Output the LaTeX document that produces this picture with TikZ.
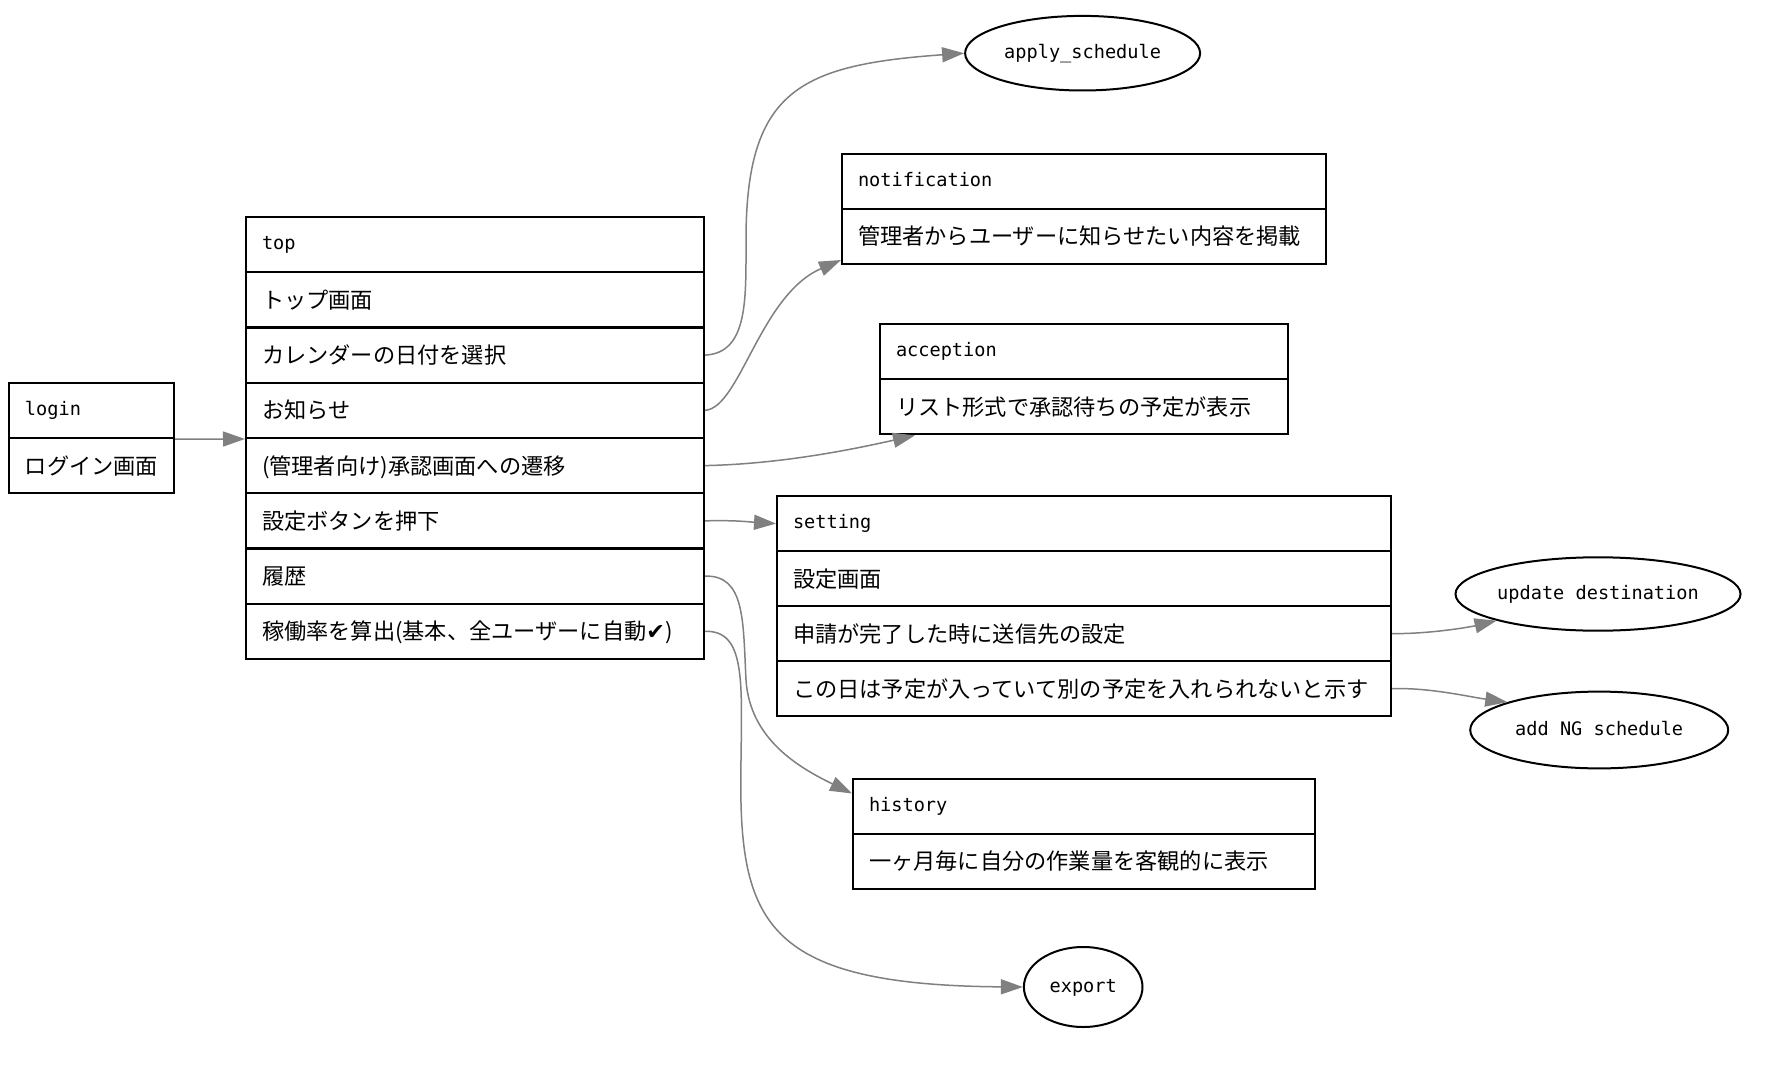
\documentclass[tikz,border=0pt]{standalone}
\usepackage{fontspec}
\usetikzlibrary{arrows.meta,shapes.geometric,calc}
\setmainfont{Noto Sans CJK JP}
\newfontfamily\jpfont{Noto Sans CJK JP}
\newfontfamily\codefont{DejaVu Sans Mono}
\newfontfamily\dingfont{DejaVu Sans}
\begin{document}
\begin{tikzpicture}[x=1pt,y=-1pt,
  lbl/.style={font=\codefont\fontsize{9.3}{11}\selectfont, text height=7pt, text depth=2pt},
  jp/.style={font=\jpfont\fontsize{11.1}{13}\selectfont, text height=9.77pt, text depth=1.33pt},
  row/.style={draw=black, line width=1pt, anchor=north west, inner xsep=8pt, inner ysep=0pt,
              minimum height=27.6pt, align=left},
  oval/.style={draw=black, line width=1pt, ellipse, inner sep=0pt, lbl},
  link/.style={draw=gray, line width=0.75pt, -{Triangle[length=11pt,width=7.5pt]}, fill=none}
]
\fill[white] (0,0) rectangle (886,535);
\useasboundingbox (0,0) rectangle (886,535);

% login record
\node[row, lbl, text width=66.5pt] (login-1) at (4,191) {login};
\node[row, jp,  text width=66.5pt] (login-2) at (4,218.5) {ログイン画面};

% top record
\node[row, lbl, text width=213pt] (top-1) at (122.5,108)     {top};
\node[row, jp,  text width=213pt] (top-2) at (122.5,135.625) {トップ画面};
\node[row, jp,  text width=213pt] (top-3) at (122.5,163.25)  {カレンダーの日付を選択};
\node[row, jp,  text width=213pt] (top-4) at (122.5,190.875) {お知らせ};
\node[row, jp,  text width=213pt] (top-5) at (122.5,218.5)   {(管理者向け)承認画面への遷移};
\node[row, jp,  text width=213pt] (top-6) at (122.5,246.125) {設定ボタンを押下};
\node[row, jp,  text width=213pt] (top-7) at (122.5,273.75)  {履歴};
\node[row, jp,  text width=213pt] (top-8) at (122.5,301.375) {稼働率を算出(基本、全ユーザーに自動{\dingfont ✔})};

% notification record
\node[row, lbl, text width=225.75pt] (notif-1) at (420.5,76.3)  {notification};
\node[row, jp,  text width=225.75pt] (notif-2) at (420.5,103.9) {管理者からユーザーに知らせたい内容を掲載};

% acception record
\node[row, lbl, text width=188pt] (acc-1) at (439.5,161.5) {acception};
\node[row, jp,  text width=188pt] (acc-2) at (439.5,189.1) {リスト形式で承認待ちの予定が表示};

% setting record
\node[row, lbl, text width=291pt] (set-1) at (388,247.5) {setting};
\node[row, jp,  text width=291pt] (set-2) at (388,275)   {設定画面};
\node[row, jp,  text width=291pt] (set-3) at (388,302.5) {申請が完了した時に送信先の設定};
\node[row, jp,  text width=291pt] (set-4) at (388,330)   {この日は予定が入っていて別の予定を入れられないと示す};

% history record
\node[row, lbl, text width=215pt] (hist-1) at (426,388.75) {history};
\node[row, jp,  text width=215pt] (hist-2) at (426,416.35) {一ヶ月毎に自分の作業量を客観的に表示};

% action ovals
\node[oval, minimum width=117.5pt, minimum height=37.3pt] (apply)  at (541.3,26.6) {apply\_schedule};
\node[oval, minimum width=136.5pt, minimum height=36.7pt] (upd)    at (799,297)    {update destination};
\node[oval, minimum width=129pt,   minimum height=38.4pt] (addng)  at (799.6,365)  {add NG schedule};
\node[oval, minimum width=59.3pt,  minimum height=40pt]   (export) at (541.6,493.5) {export};

% connectors
\draw[link] (login-1.south east) -- (top-4.south west);
\draw[link] (top-3.east) .. controls (374,176.5) and (373,150) .. (373,120)
                         .. controls (373,45) and (400,32.5) .. (apply.west);
\draw[link] (top-4.east) .. controls (370,204) and (380,147.5) .. ([yshift=2.5pt]notif-2.south west);
\draw[link] (top-5.east) .. controls (390,232) and (425,225) .. ([xshift=18pt]acc-2.south west);
\draw[link] (top-6.east) .. controls (367.5,260) and (375,261) .. (set-1.west);
\draw[link] (top-7.east) .. controls (372.5,287.5) and (371.5,310) .. (373,340)
                         .. controls (375,370) and (400,384) .. ($(hist-1.north west)+(0,8)$);
\draw[link] (top-8.east) .. controls (372.5,315) and (371,340) .. (370.5,380)
                         .. controls (369,460) and (380,492.5) .. (export.west);
\draw[link] (set-3.east) .. controls (715,317) and (735,313.5) .. (upd.south west);
\draw[link] (set-4.east) .. controls (715,343.75) and (735,348.5) .. (addng.north west);
\end{tikzpicture}
\end{document}
